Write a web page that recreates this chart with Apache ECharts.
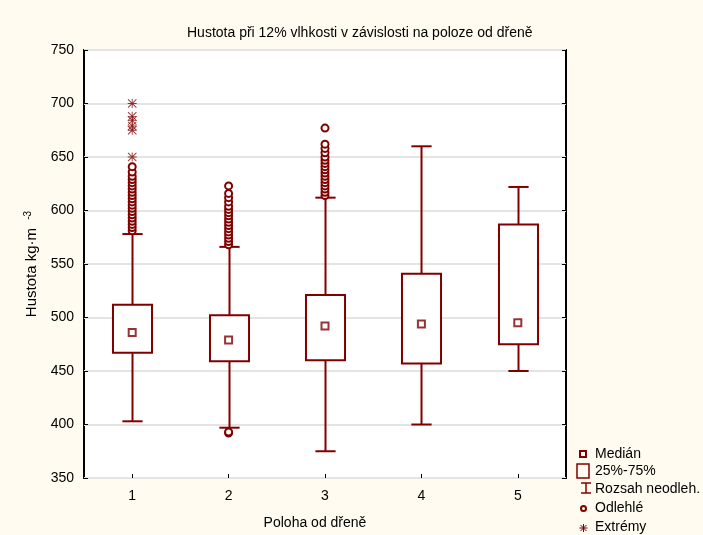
<!DOCTYPE html>
<html>
<head>
<meta charset="utf-8">
<script src="https://cdn.jsdelivr.net/npm/echarts@6/dist/echarts.min.js"></script>
<style>
html,body{margin:0;padding:0;background:#fffbf0;}
#chart{width:703px;height:535px;}
</style>
</head>
<body>
<div id="chart"></div>
<script>
// ---- data ----
const categories = ['1', '2', '3', '4', '5'];
const whiskerLow  = [403, 397, 375, 400, 450];
const q1          = [467, 459, 460, 457, 475];
const median      = [486, 479, 492, 494, 495];
const q3          = [512, 502, 521, 541, 587];
const whiskerHigh = [578, 566, 612, 660, 622];

const outliers1 = [581, 584, 587, 590, 593, 596, 599, 602, 605, 608, 611, 614, 617, 620, 623, 626, 629, 632, 636, 641];
const outliers2 = [392, 393, 568, 571, 574, 577, 580, 583, 586, 589, 592, 595, 598, 601, 604, 608, 612, 616, 623];
const outliers3 = [614, 617, 620, 623, 626, 629, 632, 635, 638, 641, 644, 647, 650, 654, 658, 662, 677];
const outliers4 = [];
const outliers5 = [];
const extremes1 = [650, 675, 679, 684, 688, 700];

const yTicks = [350, 400, 450, 500, 550, 600, 650, 700, 750];

const RED = '#800000';
const FONT = "Arial, 'Liberation Sans', sans-serif";

// ---- build series data ----
const boxData = categories.map((c, i) => [i, whiskerLow[i], q1[i], q3[i], whiskerHigh[i]]);
const medianData = categories.map((c, i) => [i, median[i]]);
const outlierLists = [outliers1, outliers2, outliers3, outliers4, outliers5];
const outlierData = [];
outlierLists.forEach((arr, i) => arr.forEach(v => outlierData.push([i, v])));
const extremeLists = [extremes1, [], [], [], []];
const extremeData = [];
extremeLists.forEach((arr, i) => arr.forEach(v => extremeData.push([i, v])));

const asterisk = 'path://M4.5 0h1v10h-1zM0 4.5h10v1h-10zM0 0.7L0.7 0L10 9.3L9.3 10zM0 9.3L9.3 0L10 0.7L0.7 10z';

function renderBox(params, api) {
  const x = api.value(0);
  const pLow = api.coord([x, api.value(1)]);
  const pQ1 = api.coord([x, api.value(2)]);
  const pQ3 = api.coord([x, api.value(3)]);
  const pHigh = api.coord([x, api.value(4)]);
  const band = api.size([1, 0])[0];
  const bw = band * 0.405;
  const cw = band * 0.21;
  const cx = Math.round(pQ1[0]) + 0.5;
  const st = { stroke: RED, lineWidth: 2, fill: null };
  return {
    type: 'group',
    children: [
      { type: 'line', shape: { x1: cx, y1: pQ3[1], x2: cx, y2: pHigh[1] }, style: st },
      { type: 'line', shape: { x1: cx, y1: pQ1[1], x2: cx, y2: pLow[1] }, style: st },
      { type: 'line', shape: { x1: cx - cw / 2, y1: pHigh[1], x2: cx + cw / 2, y2: pHigh[1] }, style: st },
      { type: 'line', shape: { x1: cx - cw / 2, y1: pLow[1], x2: cx + cw / 2, y2: pLow[1] }, style: st },
      { type: 'rect', shape: { x: cx - bw / 2, y: pQ3[1], width: bw, height: pQ1[1] - pQ3[1] },
        style: { stroke: RED, lineWidth: 2, fill: '#fff' } }
    ]
  };
}

const chart = echarts.init(document.getElementById('chart'));
const legendFont = { fill: '#000', font: '14px ' + FONT, textVerticalAlign: 'middle' };
const lg = (x1, y1, x2, y2, w) => ({ type: 'line', shape: { x1, y1, x2, y2 }, style: { stroke: RED, lineWidth: w || 1.5 } });

chart.setOption({
  backgroundColor: '#fffbf0',
  animation: false,
  textStyle: { fontFamily: FONT },
  title: {
    text: 'Hustota při 12% vlhkosti v závislosti na poloze od dřeně',
    left: 182, top: 21,
    textStyle: { fontSize: 14, fontWeight: 'normal', color: '#000', fontFamily: FONT }
  },
  grid: {
    left: 84, right: 137, top: 50, bottom: 53,
    show: true, backgroundColor: '#fff', borderColor: '#000', borderWidth: 2
  },
  xAxis: {
    type: 'category',
    data: categories,
    name: 'Poloha od dřeně',
    nameLocation: 'middle',
    nameGap: 38,
    nameTextStyle: { fontSize: 14, color: '#000', fontFamily: FONT, padding: [0, 20, 0, 0] },
    axisLine: { show: false },
    axisTick: { show: true, inside: true, length: 4, alignWithLabel: true, lineStyle: { color: '#000', width: 1 } },
    axisLabel: { fontSize: 14, color: '#000', margin: 11, fontFamily: FONT },
    splitLine: { show: false }
  },
  yAxis: [{
    type: 'value',
    min: 350, max: 750, interval: 50,
    name: 'Hustota kg·m {sup|-3}',
    nameLocation: 'middle',
    nameGap: 43,
    nameRotate: 90,
    nameTextStyle: {
      fontSize: 15, color: '#000', fontFamily: FONT, padding: [0, 0, 0, 0],
      rich: { sup: { fontSize: 10, verticalAlign: 'top', padding: [0, 0, 8, 4], color: '#000' } }
    },
    axisLine: { show: false },
    axisTick: { show: true, inside: true, length: 4, lineStyle: { color: '#000' } },
    axisLabel: { fontSize: 14, color: '#000', margin: 10, fontFamily: FONT,
      formatter: v => yTicks.includes(v) ? String(v) : '' },
    splitLine: { show: true, lineStyle: { color: '#e4e4e4', width: 2 } }
  }, {
    type: 'value',
    position: 'right',
    min: 350, max: 750, interval: 50,
    axisLine: { show: false },
    axisTick: { show: true, inside: true, length: 4, lineStyle: { color: '#000' } },
    axisLabel: { show: false },
    splitLine: { show: false }
  }],
  series: [
    {
      name: '25%-75%',
      type: 'custom',
      renderItem: renderBox,
      data: boxData,
      encode: { x: 0, y: [1, 2, 3, 4] },
      z: 2
    },
    {
      name: 'Odlehlé',
      type: 'scatter',
      data: outlierData,
      symbol: 'circle',
      symbolSize: 7,
      itemStyle: { color: '#fff', borderColor: RED, borderWidth: 2, opacity: 1 },
      z: 3
    },
    {
      name: 'Extrémy',
      type: 'scatter',
      data: extremeData,
      symbol: asterisk,
      symbolSize: 9,
      itemStyle: { color: RED },
      z: 3
    },
    {
      name: 'Medián',
      type: 'scatter',
      data: medianData,
      symbol: 'rect',
      symbolSize: 7,
      itemStyle: { color: '#fff', borderColor: RED, borderWidth: 2 },
      z: 4
    }
  ],
  graphic: [
    // legend
    { type: 'rect', shape: { x: 580, y: 451, width: 6, height: 6 }, style: { fill: '#fff', stroke: RED, lineWidth: 2 } },
    { type: 'text', x: 595, y: 454, style: Object.assign({ text: 'Medián' }, legendFont) },
    { type: 'rect', shape: { x: 577, y: 464, width: 12, height: 14 }, style: { fill: 'none', stroke: RED, lineWidth: 1.5 } },
    { type: 'text', x: 595, y: 471, style: Object.assign({ text: '25%-75%' }, legendFont) },
    lg(581, 483, 591, 483), lg(586, 483, 586, 493), lg(581, 493, 591, 493),
    { type: 'text', x: 595, y: 489, style: Object.assign({ text: 'Rozsah neodleh.' }, legendFont) },
    { type: 'circle', shape: { cx: 583.5, cy: 508.5, r: 2.5 }, style: { fill: 'none', stroke: RED, lineWidth: 2 } },
    { type: 'text', x: 595, y: 508, style: Object.assign({ text: 'Odlehlé' }, legendFont) },
    lg(579.5, 528, 587.5, 528, 1), lg(583.5, 524, 583.5, 532, 1), lg(580.5, 525, 586.5, 531, 1), lg(580.5, 531, 586.5, 525, 1),
    { type: 'text', x: 595, y: 527, style: Object.assign({ text: 'Extrémy' }, legendFont) }
  ]
});
</script>
</body>
</html>
